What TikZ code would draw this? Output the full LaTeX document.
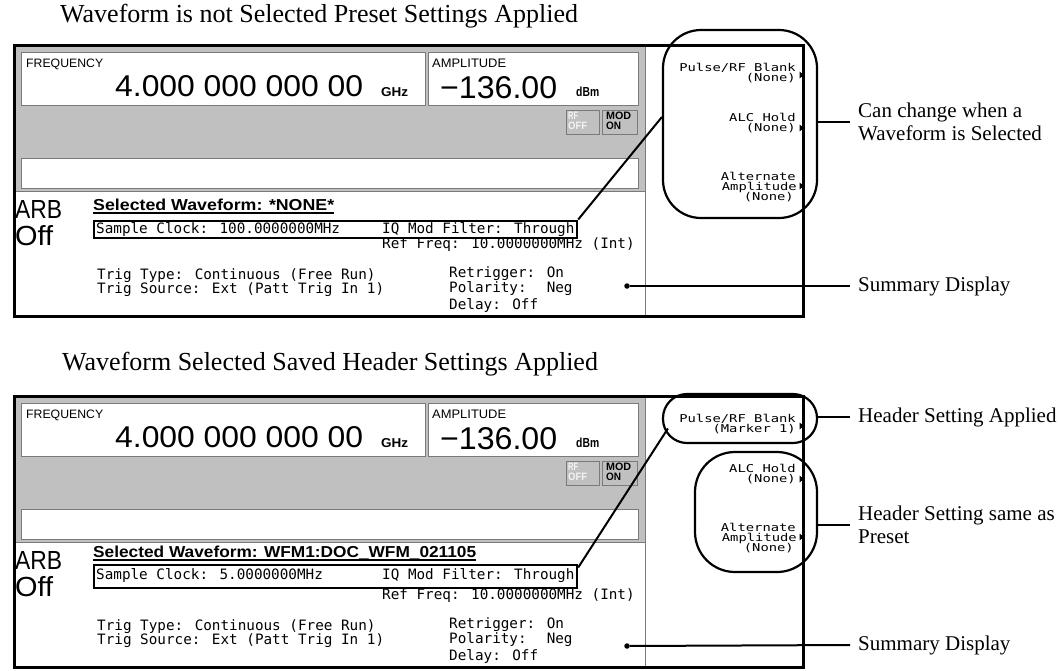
\documentclass[tikz,border=0pt]{standalone}
\usepackage{fontspec}
\usepackage{graphicx}
\setmainfont{Liberation Serif}
\newfontfamily\sansf{Liberation Sans}
\newfontfamily\monof{DejaVu Sans Mono}
\usetikzlibrary{calc}
\definecolor{scrgray}{HTML}{C0C0C0}
\definecolor{edgegray}{HTML}{7A7A7A}
\definecolor{offtext}{HTML}{F4F4F4}
\newcommand\sktext[1]{\scalebox{1.28}[1]{\monof\fontsize{10.8}{10.8}\selectfont #1}}
\tikzset{
  lbl/.style={anchor=west, inner xsep=8pt, inner ysep=0pt, align=left, font=\fontsize{21}{23}\selectfont},
  ttl/.style={anchor=base west, inner sep=0pt, font=\fontsize{26}{28}\selectfont},
  mono/.style={anchor=base west, inner sep=0pt, font=\monof\fontsize{14.3}{15}\selectfont},
  skey/.style={anchor=base east, inner sep=0pt},
  scr/.style={anchor=base west, inner sep=0pt},
  winbox/.style={draw=edgegray, fill=white, line width=1pt, inner sep=0pt},
  btn/.style={draw=edgegray, fill=scrgray, line width=1pt, inner sep=0pt},
  hilite/.style={draw=black, line width=2.2pt, inner sep=0pt},
  conn/.style={draw=black, line width=2pt},
  dotn/.style={circle, fill=black, inner sep=0pt, minimum size=5.5pt},
}
% #1 prefix, #2 waveform, #3 its width, #4 sample clock, #5 pulse 2nd line,
% #6 selected baseline, #7 sample baseline, #8 box top, #9 box height
\newcommand\drawpanel[9]{%
  \fill[white] (15,47) rectangle (802,315);
  \fill[scrgray] (15,47) rectangle (645,191);
  \draw[edgegray,line width=1pt] (15,191.5) -- (645,191.5);
  \draw[edgegray,line width=1pt] (645.5,47) -- (645.5,315);
  \node[winbox,minimum width=404pt,minimum height=53pt] (#1fbox) at (223,78.5) {};
  \node[winbox,minimum width=210pt,minimum height=53pt] (#1abox) at (533,78.5) {};
  \node[winbox,minimum width=617pt,minimum height=30pt] (#1mbox) at (329.5,173) {};
  \node[btn,minimum width=33pt,minimum height=24pt] (#1rfb) at (582.5,122) {};
  \node[btn,minimum width=35pt,minimum height=24pt] (#1modb) at (619.5,122) {};
  \node[scr] (#1flab) at (26,67) {\resizebox{77pt}{8.5pt}{\sansf FREQUENCY}};
  \node[scr] (#1fval) at (115,96) {\resizebox{248pt}{21pt}{\sansf 4.000 000 000 00}};
  \node[scr] (#1fun) at (381,96) {\resizebox{27pt}{9pt}{\sansf\bfseries GHz}};
  \node[scr] (#1alab) at (432,67) {\resizebox{74pt}{8.5pt}{\sansf AMPLITUDE}};
  \node[scr] (#1aval) at (440,98) {\resizebox{117pt}{22pt}{\sansf −136.00}};
  \node[scr] (#1aun) at (576,96) {\resizebox{23pt}{9.5pt}{\sansf\bfseries dBm}};
  \node[scr,text=offtext] (#1rf) at (568,119) {\resizebox{10pt}{7.5pt}{\sansf\bfseries RF}};
  \node[scr,text=offtext] (#1off) at (568,129) {\resizebox{19pt}{7.5pt}{\sansf\bfseries OFF}};
  \node[scr] (#1mod) at (606,119) {\resizebox{25pt}{7.5pt}{\sansf\bfseries MOD}};
  \node[scr] (#1on) at (606,129) {\resizebox{15pt}{7.5pt}{\sansf\bfseries ON}};
  \node[scr] (#1arb) at (15,218) {\resizebox{47pt}{18pt}{\sansf ARB}};
  \node[scr] (#1arboff) at (15,245) {\resizebox{38pt}{20pt}{\sansf Off}};
  \node[scr] (#1wf) at (93,#6) {\resizebox{#3}{11.5pt}{\sansf\bfseries Selected Waveform: #2}};
  \draw[line width=1.6pt] ([yshift=-3pt]#1wf.base west) -- ([yshift=-3pt]#1wf.base east);
  \node[mono] (#1sc) at (96,#7) {Sample Clock: #4};
  \node[mono] (#1iq) at (382,#7) {IQ Mod Filter: Through};
  \node[mono] (#1rfq) at (382,248) {Ref Freq: 10.0000000MHz (Int)};
  \node[mono] (#1tt) at (97,279) {Trig Type: Continuous (Free Run)};
  \node[mono] (#1ts) at (97,293) {Trig Source: Ext (Patt Trig In 1)};
  \node[mono] (#1rt) at (449,277) {Retrigger: On};
  \node[mono] (#1pol) at (449,292) {Polarity:~ Neg};
  \node[mono] (#1del) at (449,309) {Delay: Off};
  \node[skey] (#1sk1) at (796,71) {\sktext{Pulse/RF Blank}};
  \node[skey] (#1sk2) at (796,81) {\sktext{#5}};
  \node[skey] (#1sk3) at (796,121) {\sktext{ALC Hold}};
  \node[skey] (#1sk4) at (796,131) {\sktext{(None)}};
  \node[skey] (#1sk5) at (796,180) {\sktext{Alternate}};
  \node[skey] (#1sk6) at (797,190) {\sktext{Amplitude}};
  \node[skey] (#1sk7) at (794,200) {\sktext{(None)}};
  \fill (799.5,71.5) -- (804,75) -- (799.5,78.5) -- cycle;
  \fill (799.5,124.5) -- (804,128) -- (799.5,131.5) -- cycle;
  \fill (799.5,182.5) -- (804,186) -- (799.5,189.5) -- cycle;
  \node[hilite,anchor=north west,minimum width=483pt,minimum height=#9] (#1sbox) at (93,#8) {};
  \draw[line width=3pt] (14.5,45.5) rectangle (803.5,316);
}
\begin{document}
\begin{tikzpicture}[x=1pt,y=-1pt]
\useasboundingbox (0,0) rectangle (1059,670);
\node[ttl] (t1) at (60,22) {Waveform is not Selected Preset Settings Applied};
\node[ttl] (t2) at (62,370) {Waveform Selected Saved Header Settings Applied};

\drawpanel{t}{*NONE*}{241pt}{100.0000000MHz}{(None)}{210}{233}{219.5}{17pt}
\begin{scope}[yshift=-351pt]
\drawpanel{b}{WFM1:DOC\_WFM\_021105}{383pt}{5.0000000MHz}{(Marker 1)}{206}{228}{212.5}{23pt}
\end{scope}

% top annotations
\node[hilite,rounded corners=38pt,minimum width=154pt,minimum height=188pt] (grp) at (740,124) {};
\node[lbl] (chg) at (850,121.5) {Can change when a\\Waveform is Selected};
\draw[conn] (grp.east |- chg.west) -- (chg.west);
\draw[conn] ([yshift=7pt]grp.west) -- (tsbox.north east);
\node[dotn] (tsd) at (627,286) {};
\node[lbl] (tsl) at (850,286) {Summary Display};
\draw[conn] (tsd) -- (tsl.west);

% bottom annotations
\node[hilite,rounded corners=24pt,minimum width=154pt,minimum height=49pt] (hdr) at (740,418.5) {};
\node[lbl] (hdl) at (850,417) {Header Setting Applied};
\draw[conn] (hdr.east |- hdl.west) -- (hdl.west);
\node[hilite,rounded corners=40pt,minimum width=122pt,minimum height=120pt] (prs) at (756,512) {};
\node[lbl] (prl) at (850,525) {Header Setting same as\\Preset};
\draw[conn] (prs.east |- prl.west) -- (prl.west);
\draw[conn] ([xshift=6pt,yshift=-10pt]hdr.west) -- ([yshift=-4pt]bsbox.north east);
\node[dotn] (bsd) at (627,646) {};
\node[lbl] (bsl) at (850,645) {Summary Display};
\draw[conn] (bsd) -- (bsl.west);
\end{tikzpicture}
\end{document}
